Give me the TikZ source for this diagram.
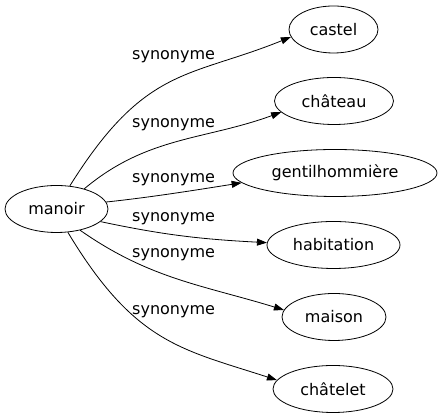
\documentclass[tikz,border=0pt]{standalone}
\usepackage{fontspec}
\setmainfont{DejaVu Sans}
\usetikzlibrary{arrows.meta, shapes.geometric}
\tikzset{every picture/.style={x=1pt,y=1pt},
  word/.style={ellipse, draw=black, line width=0.8pt, inner sep=2pt, minimum height=47pt, font=\fontsize{16}{19}\selectfont},
  rel/.style={inner sep=0pt, anchor=base west, font=\fontsize{16}{19}\selectfont},
  syn/.style={draw=black, line width=0.8pt, -{Triangle[length=10pt,width=7pt]}}}

\begin{document}
\begin{tikzpicture}
        \useasboundingbox (0,0) rectangle (440,419);

        \node[word, minimum width=103pt] (manoir) at (56.5, 210) {manoir};
        \node[word, minimum width=89pt] (castel) at (333.5, 389.5) {castel};
        \node[word, minimum width=119pt] (chateau) at (334, 318) {château};
        \node[word, minimum width=204pt] (gentil) at (335, 246) {gentilhommière};
        \node[word, minimum width=133pt] (habitation) at (333.5, 174) {habitation};
        \node[word, minimum width=104pt] (maison) at (334, 102) {maison};
        \node[word, minimum width=120pt] (chatelet) at (333, 30) {châtelet};

        \node[rel] (s1) at (132, 359) {synonyme};
        \node[rel] (s2) at (132, 291) {synonyme};
        \node[rel] (s3) at (132, 236) {synonyme};
        \node[rel] (s4) at (132, 197) {synonyme};
        \node[rel] (s5) at (132, 161) {synonyme};
        \node[rel] (s6) at (132, 104) {synonyme};

        \foreach \tgt/\sa/\so/\ta/\ti/\la/\lb in {
          castel/60/58/190/202/142/110,
          chateau/36/40/192/200/82/82,
          gentil/8/6/186/189/45/45,
          habitation/-16/-12/178/177/65/65,
          maison/-42/-35/172/163/85/85,
          chatelet/-64/-59/171/162/130/100}
        \draw[syn] (manoir.\sa) .. controls +(\so:\la) and +(\ti:\lb) .. (\tgt.\ta);
      \end{tikzpicture}
\end{document}
